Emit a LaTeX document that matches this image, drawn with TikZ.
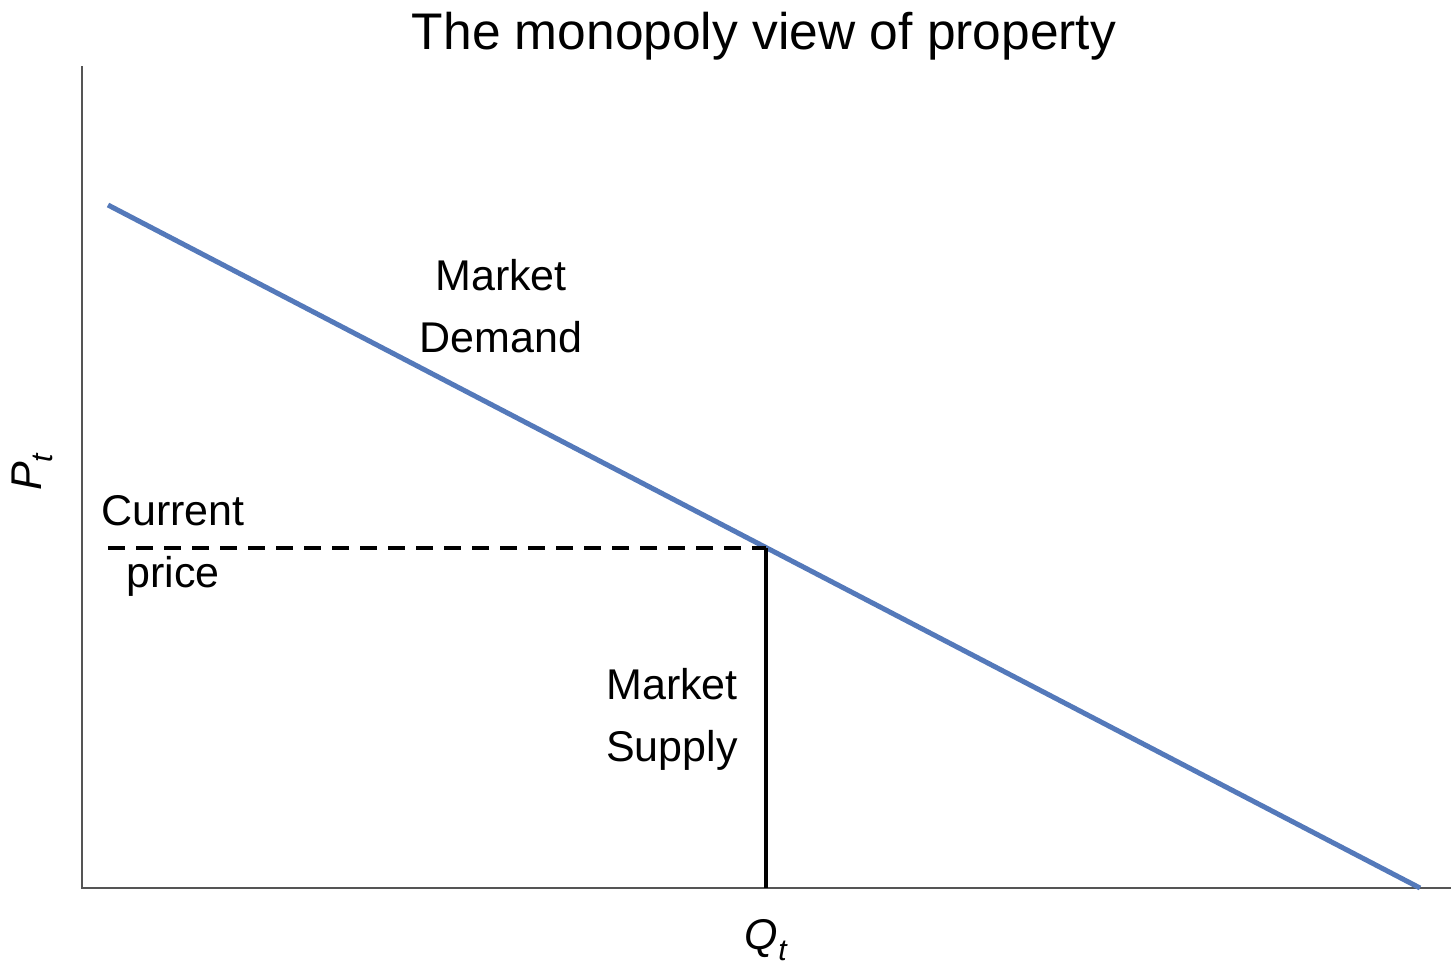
\documentclass[tikz,border=0pt]{standalone}
\usepackage{fontspec}
\setmainfont{Liberation Sans}
\definecolor{demandblue}{RGB}{84,121,186}
\definecolor{axisgray}{RGB}{85,85,85}
\begin{document}
\begin{tikzpicture}[x=1pt,y=-1pt,
  axisline/.style={draw=axisgray,line width=2.5pt},
  demandline/.style={draw=demandblue,line width=5pt},
  priceline/.style={draw=black,line width=3.2pt,dash pattern=on 17pt off 11pt},
  supplyline/.style={draw=black,line width=3.2pt},
  lbl/.style={font=\fontsize{43}{62}\selectfont,align=center,inner sep=0pt},
  titlelbl/.style={font=\fontsize{51.5}{60}\selectfont,inner sep=0pt}]
\useasboundingbox (0,0) rectangle (1456,972);
% axes
\coordinate (ytop) at (82,66);
\coordinate (origin) at (82,888);
\coordinate (xend) at (1451,888);
\draw[axisline] (ytop) -- (origin) -- (xend);
% demand
\coordinate (dstart) at (108,205);
\coordinate (dend) at (1420,888);
\draw[demandline] (dstart) -- (dend);
% equilibrium
\coordinate (eq) at (766,548);
\coordinate (pstart) at (108,548);
\coordinate (qfoot) at (766,888);
\draw[priceline] (pstart) -- (eq);
\draw[supplyline] (eq) -- (qfoot);
% labels
\node[titlelbl] (title) at (764,36) {The monopoly view of property};
\node[lbl,anchor=base] (demandlbl) at (501,352) {Market\\Demand};
\node[lbl,anchor=base] (currentlbl) at (173,587) {Current\\price};
\node[lbl,anchor=base] (supplylbl) at (672,761) {Market\\Supply};
\node[lbl,anchor=center,rotate=90] (plbl) at (32,472) {\itshape P\textsubscript{t}};
\node[lbl,anchor=center] (qlbl) at (766,940) {\itshape Q\textsubscript{t}};
\end{tikzpicture}
\end{document}
